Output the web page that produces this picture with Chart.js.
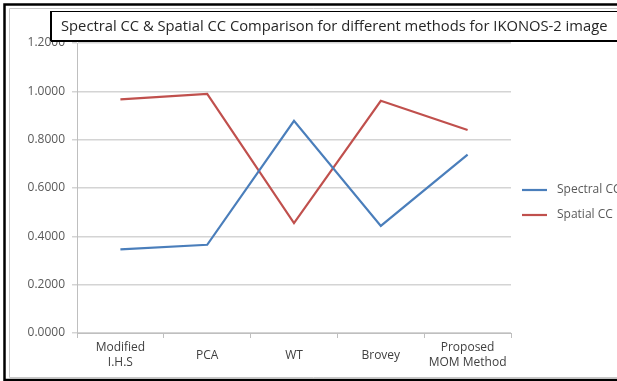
<!DOCTYPE html>
<html>
<head>
<meta charset="utf-8">
<script src="https://cdn.jsdelivr.net/npm/chart.js@4.4.1/dist/chart.umd.min.js"></script>
<style>
  html, body { margin: 0; padding: 0; background: #ffffff; }
  #wrap { width: 617px; height: 381px; }
</style>
</head>
<body>
<div id="wrap"><canvas id="cc" width="617" height="381"></canvas></div>
<script>
// Correlation coefficients for each fusion method
const methods = [['Modified', 'I.H.S'], 'PCA', 'WT', 'Brovey', ['Proposed', 'MOM Method']];
const spectralCC = [0.346, 0.365, 0.878, 0.443, 0.738];
const spatialCC  = [0.967, 0.989, 0.455, 0.961, 0.840];
const seriesNames = ['Spectral CC', 'Spatial CC'];
const seriesColors = ['#4a7ebb', '#c0504d'];
const chartTitle = 'Spectral CC & Spatial CC Comparison for different methods for IKONOS-2 image';

const textFont = '"Open Sans", "Liberation Sans", sans-serif';

// Worksheet-style frame behind the chart
const framePlugin = {
  id: 'frame',
  beforeDraw(chart) {
    const c = chart.ctx;
    c.save();
    c.fillStyle = '#ffffff';
    c.fillRect(0, 0, chart.width, chart.height);
    c.strokeStyle = '#c8c8c8';
    c.lineWidth = 1;
    c.beginPath();
    c.moveTo(chart.width + 2, 8.5);
    c.lineTo(9.5, 8.5);
    c.lineTo(9.5, 377.5);
    c.lineTo(chart.width + 2, 377.5);
    c.stroke();
    c.strokeStyle = '#000000';
    c.lineWidth = 2.5;
    c.beginPath();
    c.moveTo(chart.width + 2, 4.5);
    c.lineTo(4.5, 4.5);
    c.lineTo(4.5, 380);
    c.lineTo(chart.width + 2, 380);
    c.stroke();
    c.restore();
  }
};

// Boxed title and line legend on the right
const overlayPlugin = {
  id: 'overlay',
  afterDraw(chart) {
    const c = chart.ctx;
    c.save();
    // title box
    c.fillStyle = '#ffffff';
    c.fillRect(50, 11, chart.width, 30);
    c.strokeStyle = '#000000';
    c.lineWidth = 1;
    c.strokeRect(50.5, 11.5, chart.width, 29);
    c.lineWidth = 2;
    c.beginPath();
    c.moveTo(51, 41);
    c.lineTo(chart.width + 2, 41);
    c.moveTo(51, 11);
    c.lineTo(51, 41);
    c.stroke();
    let size = 15;
    c.font = size + 'px ' + textFont;
    const w = c.measureText(chartTitle).width;
    size = size * 547 / w;
    c.font = size + 'px ' + textFont;
    c.fillStyle = '#262626';
    c.textBaseline = 'middle';
    c.textAlign = 'left';
    c.fillText(chartTitle, 61, 27);

    // legend
    const rows = [190, 215];
    c.font = '12px ' + textFont;
    chart.data.datasets.forEach((ds, i) => {
      c.strokeStyle = ds.borderColor;
      c.lineWidth = 2.2;
      c.beginPath();
      c.moveTo(522, rows[i]);
      c.lineTo(547, rows[i]);
      c.stroke();
      c.fillStyle = '#595959';
      c.fillText(ds.label, 557, rows[i]);
    });
    c.restore();
  }
};

new Chart(document.getElementById('cc'), {
  type: 'line',
  data: {
    labels: methods,
    datasets: [
      { label: seriesNames[0], data: spectralCC, borderColor: seriesColors[0], backgroundColor: seriesColors[0] },
      { label: seriesNames[1], data: spatialCC, borderColor: seriesColors[1], backgroundColor: seriesColors[1] }
    ]
  },
  options: {
    responsive: false,
    animation: false,
    devicePixelRatio: 1,
    layout: { padding: { left: 0, top: 43, right: 106, bottom: 0 } },
    elements: {
      line: { borderWidth: 2.2, tension: 0 },
      point: { radius: 0, hoverRadius: 0 }
    },
    plugins: {
      legend: { display: false },
      title: { display: false },
      tooltip: { enabled: false }
    },
    scales: {
      x: {
        offset: true,
        afterFit(scale) { scale.height = 48; },
        grid: { offset: true, drawOnChartArea: false, tickLength: 5, color: '#bfbfbf', lineWidth: 1 },
        border: { display: true, color: '#bfbfbf', width: 1 },
        ticks: {
          crossAlign: 'center',
          padding: 10,
          color: '#404040',
          font: { family: textFont, size: 12, lineHeight: 1.25 }
        }
      },
      y: {
        min: 0,
        max: 1.2,
        afterFit(scale) { scale.width = 77; },
        grid: { color: '#d4d4d4', lineWidth: 1.5, tickLength: 5 },
        border: { display: true, color: '#bfbfbf', width: 1 },
        ticks: {
          stepSize: 0.2,
          padding: 7,
          color: '#595959',
          font: { family: textFont, size: 12 },
          callback: (v) => Number(v).toFixed(4)
        }
      }
    }
  },
  plugins: [framePlugin, overlayPlugin]
});
</script>
</body>
</html>
